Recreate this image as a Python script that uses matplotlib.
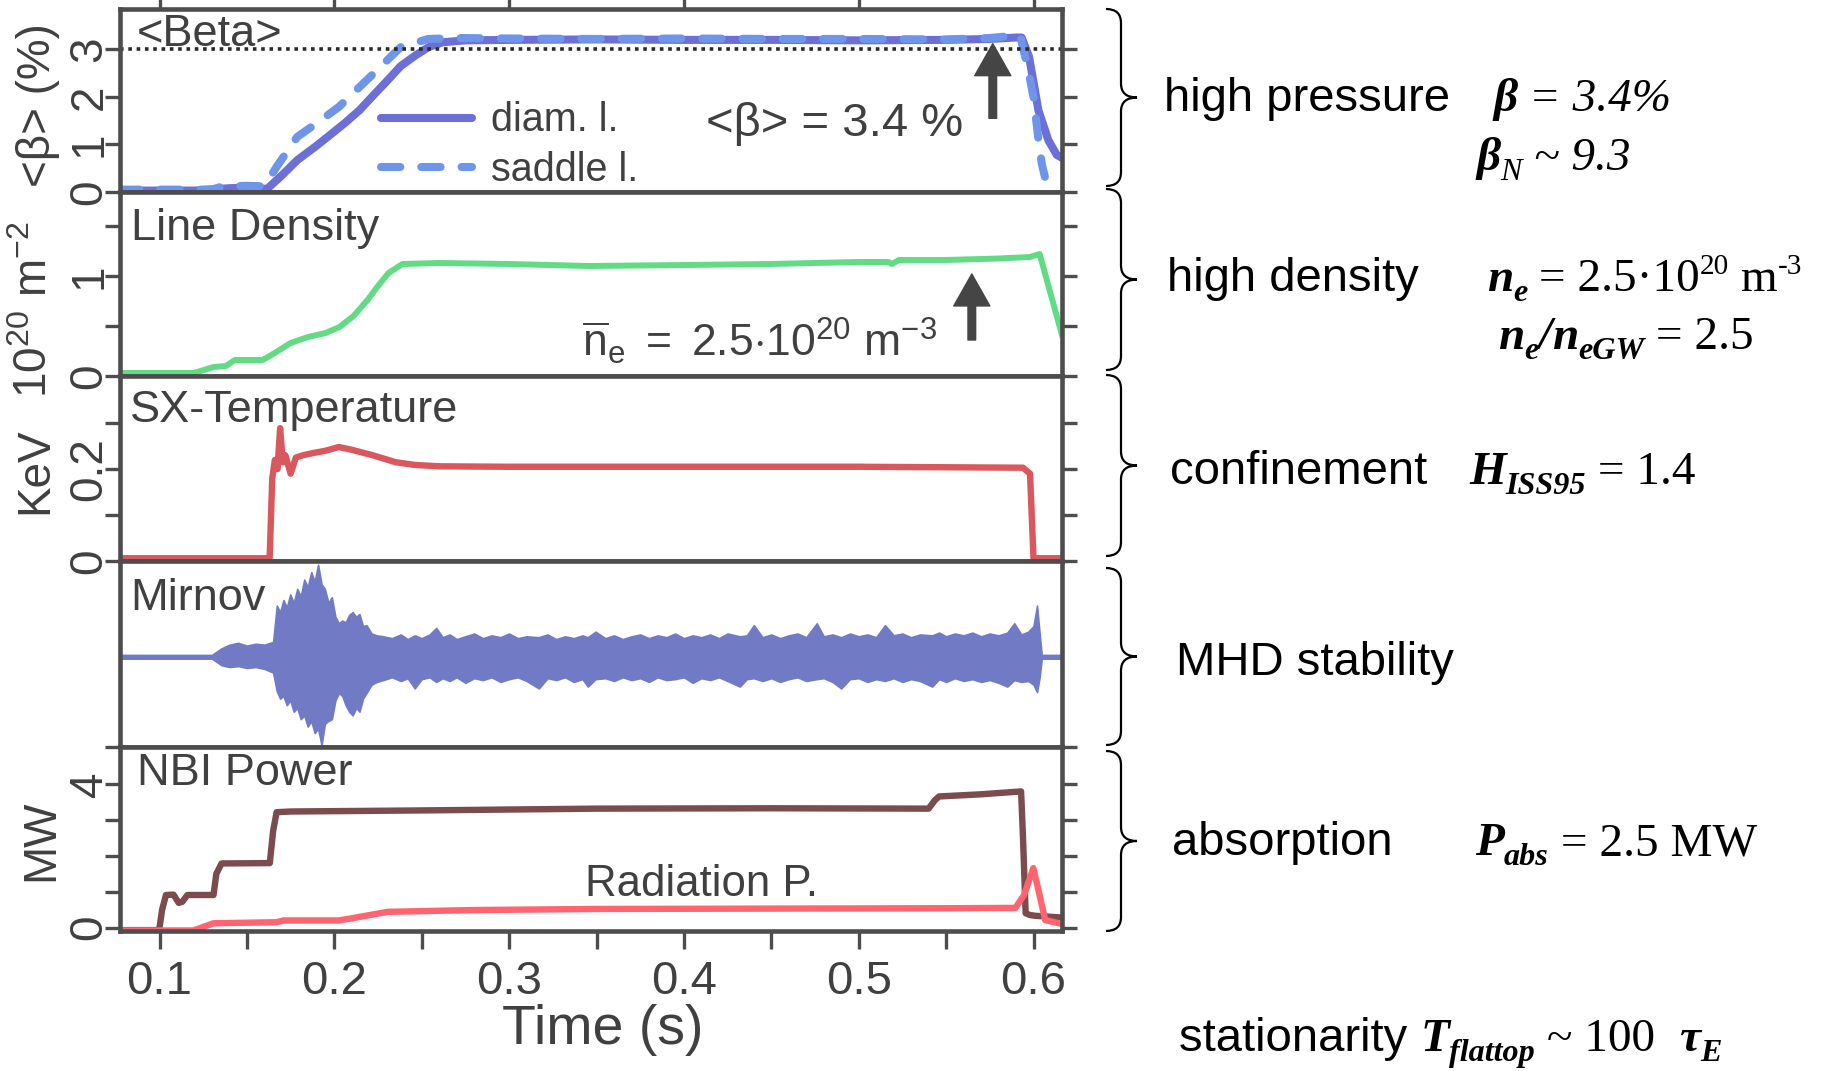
import matplotlib
matplotlib.use('Agg')
import matplotlib.pyplot as plt
from matplotlib.path import Path
from matplotlib.patches import PathPatch
from matplotlib.ticker import FixedLocator

plt.rcParams['font.family'] = ['Liberation Sans', 'DejaVu Sans']
plt.rcParams['mathtext.fontset'] = 'custom'
plt.rcParams['mathtext.rm'] = 'Liberation Sans'
plt.rcParams['mathtext.it'] = 'Liberation Sans:italic'
plt.rcParams['mathtext.bf'] = 'Liberation Sans:bold'
plt.rcParams['mathtext.sf'] = 'Liberation Sans'

# ---------------- data ----------------
t_range = (0.0774, 0.6163)
x_ticks = [0.1, 0.2, 0.3, 0.4, 0.5, 0.6]
x_tick_labels = ['0.1', '0.2', '0.3', '0.4', '0.5', '0.6']
x_minor = [0.15, 0.25, 0.35, 0.45, 0.55]

beta_diam_t = [0.0774, 0.120, 0.140, 0.155, 0.1614, 0.170, 0.1788, 0.189, 0.1986, 0.206,
               0.2144, 0.222, 0.2305, 0.238, 0.2463, 0.254, 0.262, 0.275, 0.300, 0.350,
               0.400, 0.450, 0.500, 0.550, 0.575, 0.590, 0.5932, 0.5975, 0.6028, 0.6085,
               0.6133, 0.6163]
beta_diam = [0.03, 0.03, 0.08, 0.10, 0.06, 0.35, 0.67, 0.95, 1.23, 1.45,
             1.72, 2.02, 2.35, 2.65, 2.87, 3.05, 3.15, 3.19, 3.20, 3.21,
             3.20, 3.20, 3.19, 3.20, 3.22, 3.25, 3.25, 2.84, 1.72, 1.09,
             0.78, 0.72]
beta_saddle_t = [0.0774, 0.130, 0.136, 0.150, 0.160, 0.167, 0.1788, 0.190, 0.2026, 0.2224,
                 0.238, 0.2537, 0.270, 0.300, 0.350, 0.400, 0.450, 0.500, 0.550, 0.575,
                 0.5923, 0.5966, 0.600, 0.6025, 0.6047, 0.6065]
beta_saddle = [0.05, 0.05, 0.12, 0.13, 0.12, 0.53, 1.16, 1.45, 1.79, 2.49,
               3.05, 3.22, 3.24, 3.23, 3.22, 3.23, 3.22, 3.22, 3.21, 3.24,
               3.30, 2.63, 2.00, 1.20, 0.60, 0.32]
beta_ref_level = 3.0

dens_t = [0.0774, 0.1195, 0.131, 0.138, 0.143, 0.159, 0.165, 0.175, 0.185, 0.195,
          0.203, 0.211, 0.219, 0.225, 0.231, 0.239, 0.260, 0.300, 0.346, 0.400,
          0.450, 0.500, 0.517, 0.519, 0.523, 0.550, 0.580, 0.598, 0.6035, 0.6163]
dens = [0.03, 0.03, 0.09, 0.10, 0.16, 0.16, 0.22, 0.33, 0.39, 0.43,
        0.49, 0.60, 0.76, 0.90, 1.03, 1.12, 1.13, 1.12, 1.10, 1.11,
        1.12, 1.14, 1.14, 1.12, 1.16, 1.16, 1.175, 1.19, 1.22, 0.41]

sx_t = [0.0774, 0.163, 0.1645, 0.166, 0.1675, 0.169, 0.1705, 0.172, 0.175, 0.178,
        0.182, 0.188, 0.195, 0.2026, 0.210, 0.222, 0.235, 0.246, 0.260, 0.300,
        0.400, 0.500, 0.594, 0.598, 0.600, 0.6163]
sx_temp = [0.006, 0.006, 0.18, 0.22, 0.20, 0.289, 0.215, 0.23, 0.19, 0.225,
           0.23, 0.235, 0.24, 0.248, 0.242, 0.23, 0.215, 0.209, 0.206, 0.205,
           0.205, 0.205, 0.203, 0.19, 0.006, 0.006]

mirnov_t = [0.0774, 0.1300, 0.1354, 0.1400, 0.1450, 0.1500, 0.1550, 0.1600, 0.1650,
            0.1671, 0.1690, 0.1709, 0.1728, 0.1748, 0.1768, 0.1788, 0.1808, 0.1828, 0.1848,
            0.1868, 0.1888, 0.1907, 0.1927, 0.1946, 0.1966, 0.1986, 0.2006, 0.2026, 0.2045,
            0.2065, 0.2085, 0.2105, 0.2125, 0.2144, 0.2164, 0.2184, 0.2213, 0.2243,
            0.2280, 0.2330, 0.2380, 0.2420, 0.2460, 0.2500, 0.2545, 0.2583, 0.2620, 0.2660,
            0.2700, 0.2750, 0.2800, 0.2850, 0.2900, 0.2950, 0.3000, 0.3050, 0.3100, 0.3170,
            0.3220, 0.3270, 0.3320, 0.3370, 0.3420, 0.3450, 0.3495, 0.3550, 0.3600, 0.3650,
            0.3700, 0.3750, 0.3800, 0.3850, 0.3900, 0.3950, 0.4000, 0.4050, 0.4100, 0.4150,
            0.4200, 0.4250, 0.4320, 0.4360, 0.4400, 0.4450, 0.4500, 0.4550, 0.4600, 0.4650,
            0.4700, 0.4760, 0.4800, 0.4850, 0.4900, 0.4950, 0.5000, 0.5050, 0.5100, 0.5150,
            0.5200, 0.5250, 0.5300, 0.5350, 0.5420, 0.5460, 0.5500, 0.5550, 0.5600, 0.5650,
            0.5700, 0.5750, 0.5800, 0.5850, 0.5890, 0.5930, 0.5970, 0.6000, 0.6020, 0.6035,
            0.6047, 0.6163]
mirnov_upper = [-0.01, -0.01, 0.06, 0.10, 0.12, 0.09, 0.11, 0.10, 0.13,
                0.52, 0.45, 0.58, 0.50, 0.64, 0.55, 0.70, 0.62, 0.80, 0.72,
                0.88, 0.78, 0.96, 0.75, 0.70, 0.55, 0.61, 0.40, 0.33, 0.36,
                0.34, 0.42, 0.45, 0.40, 0.43, 0.30, 0.31, 0.22, 0.20,
                0.19, 0.17, 0.21, 0.16, 0.20, 0.17, 0.21, 0.28, 0.18, 0.21,
                0.16, 0.19, 0.22, 0.17, 0.20, 0.18, 0.22, 0.17, 0.19, 0.18,
                0.21, 0.16, 0.19, 0.17, 0.20, 0.18, 0.24, 0.17, 0.20, 0.16,
                0.19, 0.21, 0.17, 0.20, 0.18, 0.22, 0.17, 0.20, 0.18, 0.21,
                0.17, 0.22, 0.19, 0.20, 0.31, 0.18, 0.21, 0.17, 0.20, 0.22,
                0.18, 0.33, 0.19, 0.21, 0.18, 0.22, 0.19, 0.21, 0.18, 0.31,
                0.20, 0.22, 0.18, 0.21, 0.20, 0.23, 0.19, 0.22, 0.20, 0.23,
                0.19, 0.22, 0.20, 0.23, 0.33, 0.21, 0.24, 0.30, 0.52, 0.22,
                -0.01, -0.01]
mirnov_lower = [-0.05, -0.05, -0.12, -0.14, -0.13, -0.15, -0.14, -0.16, -0.20,
                -0.40, -0.48, -0.45, -0.55, -0.50, -0.62, -0.58, -0.70, -0.66, -0.78,
                -0.72, -0.85, -0.80, -0.98, -0.75, -0.72, -0.70, -0.50, -0.42, -0.45,
                -0.55, -0.62, -0.66, -0.58, -0.62, -0.48, -0.42, -0.33, -0.30,
                -0.28, -0.25, -0.29, -0.26, -0.37, -0.27, -0.25, -0.30, -0.26, -0.29,
                -0.25, -0.31, -0.26, -0.28, -0.25, -0.30, -0.27, -0.25, -0.29, -0.37,
                -0.26, -0.28, -0.25, -0.30, -0.27, -0.35, -0.27, -0.26, -0.29, -0.25,
                -0.28, -0.26, -0.30, -0.25, -0.28, -0.27, -0.25, -0.31, -0.26, -0.28,
                -0.25, -0.29, -0.35, -0.27, -0.26, -0.29, -0.26, -0.30, -0.27, -0.25,
                -0.29, -0.27, -0.26, -0.30, -0.37, -0.27, -0.26, -0.30, -0.27, -0.29,
                -0.26, -0.30, -0.27, -0.29, -0.35, -0.27, -0.30, -0.26, -0.29, -0.27,
                -0.30, -0.28, -0.31, -0.35, -0.28, -0.30, -0.29, -0.33, -0.41, -0.25,
                -0.05, -0.05]

nbi_t = [0.0774, 0.0998, 0.1015, 0.1037, 0.108, 0.111, 0.113, 0.116, 0.1309, 0.1325,
         0.1355, 0.1631, 0.165, 0.167, 0.175, 0.250, 0.350, 0.450, 0.540, 0.5435,
         0.546, 0.570, 0.5929, 0.594, 0.5955, 0.598, 0.601, 0.6163]
nbi_power = [-0.07, -0.07, 0.50, 0.91, 0.92, 0.69, 0.72, 0.91, 0.91, 1.50,
             1.79, 1.80, 2.70, 3.22, 3.24, 3.27, 3.32, 3.33, 3.32, 3.55,
             3.66, 3.72, 3.80, 2.50, 0.40, 0.35, 0.33, 0.28]
rad_t = [0.0774, 0.1194, 0.1309, 0.167, 0.171, 0.2026, 0.210, 0.2305, 0.280, 0.350,
         0.450, 0.550, 0.5896, 0.5945, 0.5999, 0.6035, 0.6067, 0.6163]
rad_power = [-0.08, -0.08, 0.12, 0.15, 0.20, 0.20, 0.26, 0.44, 0.49, 0.52,
             0.53, 0.54, 0.55, 0.90, 1.66, 0.90, 0.21, 0.10]

# arrows: (time, y_start, y_end)
beta_arrow = (0.5767, 1.55, 3.12)
dens_arrow = (0.5647, 0.36, 1.02)

# ---------------- style ----------------
W, H = 1825.0, 1071.0
AX_L, AX_R = 120, 1062
panel_px = [(9, 192), (192, 376), (376, 561), (561, 747), (747, 931)]
FRAME = '#4d4d4d'
TXT = '#404040'
C_DIAM = '#6b6fd6'
C_SADDLE = '#6f95ea'
C_DENS = '#62dc84'
C_SX = '#d9585d'
C_MIR = '#717bc5'
C_NBI = '#7b4b4e'
C_RAD = '#ff6470'
TITLE_FS = 32.5

fig = plt.figure(figsize=(W / 100, H / 100), dpi=100)
axes = []
for top, bot in panel_px:
    ax = fig.add_axes([AX_L / W, 1 - bot / H, (AX_R - AX_L) / W, (bot - top) / H],
                      sharex=axes[0] if axes else None)
    for s in ax.spines.values():
        s.set_linewidth(3.3)
        s.set_color(FRAME)
    ax.tick_params(axis='y', which='both', direction='out', length=11, width=2.4,
                   color=FRAME, left=True, right=True, labelleft=True,
                   labelsize=33, labelcolor=TXT, labelrotation=90, pad=-5)
    ax.tick_params(axis='x', which='both', direction='out', top=False, bottom=False,
                   labelbottom=False, labeltop=False, length=11, width=2.4, color=FRAME)
    axes.append(ax)
ax_beta, ax_dens, ax_sx, ax_mir, ax_nbi = axes

ax_nbi.set_xticks(x_ticks)
ax_nbi.set_xticklabels(x_tick_labels)
ax_nbi.xaxis.set_minor_locator(FixedLocator(x_minor))
ax_nbi.set_xlim(*t_range)
ax_nbi.tick_params(axis='x', which='both', bottom=True, labelbottom=True, length=13,
                   labelsize=34, labelcolor=TXT, pad=8)
ax_nbi.tick_params(axis='x', which='minor', labelbottom=False)
ax_beta.tick_params(axis='x', which='major', top=True, length=8)

# ---- panel 1: beta
l_diam, = ax_beta.plot(beta_diam_t, beta_diam, color=C_DIAM, lw=5.8, solid_capstyle='round')
l_sad, = ax_beta.plot(beta_saddle_t, beta_saddle, color=C_SADDLE, lw=5.8,
                      ls=(0, (2.4, 2.6)), dash_capstyle='round')
ax_beta.axhline(beta_ref_level, color='#2a2a2a', lw=2.6, ls=(0, (1.0, 1.3)))
ax_beta.set_ylim(0, 3.85)
ax_beta.set_yticks([0, 1, 2, 3])
ax_beta.set_yticklabels(['0', '1', '2', '3'])
ax_beta.text(0.018, 0.86, '<Beta>', transform=ax_beta.transAxes, fontsize=TITLE_FS,
             color=TXT, ha='left', va='center')
ax_beta.legend([l_diam, l_sad], ['diam. l.', 'saddle l.'], loc='center left',
               bbox_to_anchor=(0.2767, 0.255), frameon=False, fontsize=28.5,
               handlelength=2.3, handletextpad=0.5, labelspacing=0.3,
               borderpad=0, borderaxespad=0, labelcolor=TXT)
ax_beta.text(0.6226, 0.37, '<β> = 3.4 %', transform=ax_beta.transAxes, fontsize=34,
             color=TXT, ha='left', va='center')
ax_beta.annotate('', xy=(beta_arrow[0], beta_arrow[2]), xytext=(beta_arrow[0], beta_arrow[1]),
                 arrowprops=dict(width=5.5, headwidth=26, headlength=23, color='#454545', shrink=0))

# ---- panel 2: density
ax_dens.plot(dens_t, dens, color=C_DENS, lw=4.3)
ax_dens.set_ylim(0, 1.84)
ax_dens.set_yticks([0, 0.5, 1, 1.5])
ax_dens.set_yticklabels(['0', '', '1', ''])
ax_dens.text(0.012, 0.80, 'Line Density', transform=ax_dens.transAxes, fontsize=TITLE_FS,
             color=TXT, ha='left', va='center')
ax_dens.text(0.4904, 0.19, r'$\overline{\mathrm{n}}_\mathrm{e}\ =\ \mathrm{2.5{\cdot}10^{20}\ m^{-3}}$',
             transform=ax_dens.transAxes, fontsize=32, color=TXT, ha='left', va='center')
ax_dens.annotate('', xy=(dens_arrow[0], dens_arrow[2]), xytext=(dens_arrow[0], dens_arrow[1]),
                 arrowprops=dict(width=5.5, headwidth=26, headlength=23, color='#454545', shrink=0))

# ---- panel 3: SX temperature
ax_sx.plot(sx_t, sx_temp, color=C_SX, lw=4.6)
ax_sx.set_ylim(0, 0.4025)
ax_sx.set_yticks([0, 0.1, 0.2, 0.3])
ax_sx.set_yticklabels(['0', '', '0.2', ''])
ax_sx.text(0.011, 0.815, 'SX-Temperature', transform=ax_sx.transAxes, fontsize=TITLE_FS,
           color=TXT, ha='left', va='center')

# ---- panel 4: Mirnov
ax_mir.fill_between(mirnov_t, mirnov_lower, mirnov_upper, color=C_MIR, lw=1.2,
                    edgecolor=C_MIR)
ax_mir.set_ylim(-1, 1)
ax_mir.set_yticks([-1])
ax_mir.set_yticklabels([''])
ax_mir.text(0.011, 0.80, 'Mirnov', transform=ax_mir.transAxes, fontsize=TITLE_FS,
            color=TXT, ha='left', va='center')

# ---- panel 5: NBI / radiation
ax_nbi.plot(nbi_t, nbi_power, color=C_NBI, lw=4.6)
ax_nbi.plot(rad_t, rad_power, color=C_RAD, lw=4.6)
ax_nbi.set_ylim(-0.095, 5.04)
ax_nbi.set_yticks([0, 1, 2, 3, 4])
ax_nbi.set_yticklabels(['0', '', '', '', '4'])
ax_nbi.text(0.018, 0.855, 'NBI Power', transform=ax_nbi.transAxes, fontsize=TITLE_FS,
            color=TXT, ha='left', va='center')
ax_nbi.text(0.494, 0.25, 'Radiation P.', transform=ax_nbi.transAxes, fontsize=31.5,
            color=TXT, ha='left', va='center')

for ax in axes:
    for lab in ax.get_yticklabels():
        lab.set_va('center')

# ---------------- overlay in pixel coordinates ----------------
ov = fig.add_axes([0, 0, 1, 1])
ov.set_xlim(0, W)
ov.set_ylim(H, 0)
ov.axis('off')
ov.set_zorder(20)
ov.patch.set_alpha(0)

ov.text(38, 105, '<β> (%)', rotation=90, ha='center', va='center', fontsize=33, color=TXT)
ov.text(35, 310, r'$\mathrm{10^{20}\ m^{-2}}$', rotation=90, ha='center', va='center',
        fontsize=33, color=TXT)
ov.text(35, 471, 'KeV', rotation=90, ha='center', va='center', fontsize=33, color=TXT)
ov.text(41, 840, 'MW', rotation=90, ha='center', va='center', fontsize=33, color=TXT)
ov.text(603, 1030, 'Time (s)', ha='center', va='center', fontsize=40, color=TXT)


def brace(ytop, ybot, xb=1121, xt=1137, xe=1106, r=14):
    ym = (ytop + ybot) / 2.0
    verts = [(xe, ytop), (xb, ytop), (xb, ytop + r),
             (xb, ym - r), (xb, ym), (xt, ym), (xb, ym), (xb, ym + r),
             (xb, ybot - r), (xb, ybot), (xe, ybot)]
    codes = [Path.MOVETO, Path.CURVE3, Path.CURVE3,
             Path.LINETO, Path.CURVE3, Path.CURVE3, Path.CURVE3, Path.CURVE3,
             Path.LINETO, Path.CURVE3, Path.CURVE3]
    return PathPatch(Path(verts, codes), fill=False, lw=1.6, edgecolor='black')


brace_spans = [(9, 186), (189, 370), (375, 556), (568, 745), (751, 931)]
for a, b in brace_spans:
    ov.add_patch(brace(a, b))

RS = 34
renderer = fig.canvas.get_renderer()
SERIF = 'Liberation Serif'
BI = dict(family=SERIF, style='italic', weight='bold')
IT = dict(family=SERIF, style='italic')
RM = dict(family=SERIF)
SANS = dict(family='Liberation Sans')


def chain(x, y, pieces):
    """Write text pieces one after another; kind: 'n' normal, 'sub', 'sup'."""
    for s, props, kind in pieces:
        fs = RS
        dy = 0
        if kind == 'sub':
            fs = RS * 0.68
            dy = 10
        elif kind == 'sup':
            fs = RS * 0.62
            dy = -17
        t = ov.text(x, y + dy, s, fontsize=fs, ha='left', va='baseline', color='black', **props)
        x += t.get_window_extent(renderer=renderer).width


ov.text(1164, 111, 'high pressure', fontsize=RS, ha='left', va='baseline')
chain(1493, 111, [('β', BI, 'n'), (' = 3.4%', IT, 'n')])
chain(1476, 170, [('β', BI, 'n'), ('N', IT, 'sub'), (' ~ 9.3', IT, 'n')])
ov.text(1167, 291, 'high density', fontsize=RS, ha='left', va='baseline')
chain(1487, 291, [('n', BI, 'n'), ('e', BI, 'sub'), (' = 2.5·10', RM, 'n'),
                  ('20', RM, 'sup'), (' m', RM, 'n'), ('-3', RM, 'sup')])
chain(1498, 349, [('n', BI, 'n'), ('e', BI, 'sub'), ('/', BI, 'n'), ('n', BI, 'n'),
                  ('eGW', BI, 'sub'), (' = 2.5', RM, 'n')])
ov.text(1170, 484, 'confinement', fontsize=RS, ha='left', va='baseline')
chain(1469, 484, [('H', BI, 'n'), ('ISS95', BI, 'sub'), (' = 1.4', RM, 'n')])
ov.text(1176, 675, 'MHD stability', fontsize=RS, ha='left', va='baseline')
ov.text(1172, 855, 'absorption', fontsize=RS, ha='left', va='baseline')
chain(1475, 855, [('P', BI, 'n'), ('abs', BI, 'sub'), (' = 2.5 MW', RM, 'n')])
chain(1179, 1051, [('stationarity ', SANS, 'n'), ('T', BI, 'n'), ('flattop', BI, 'sub'),
                   (' ~ 100  ', RM, 'n'), ('τ', BI, 'n'), ('E', BI, 'sub')])

fig.savefig('out.png', dpi=100)
